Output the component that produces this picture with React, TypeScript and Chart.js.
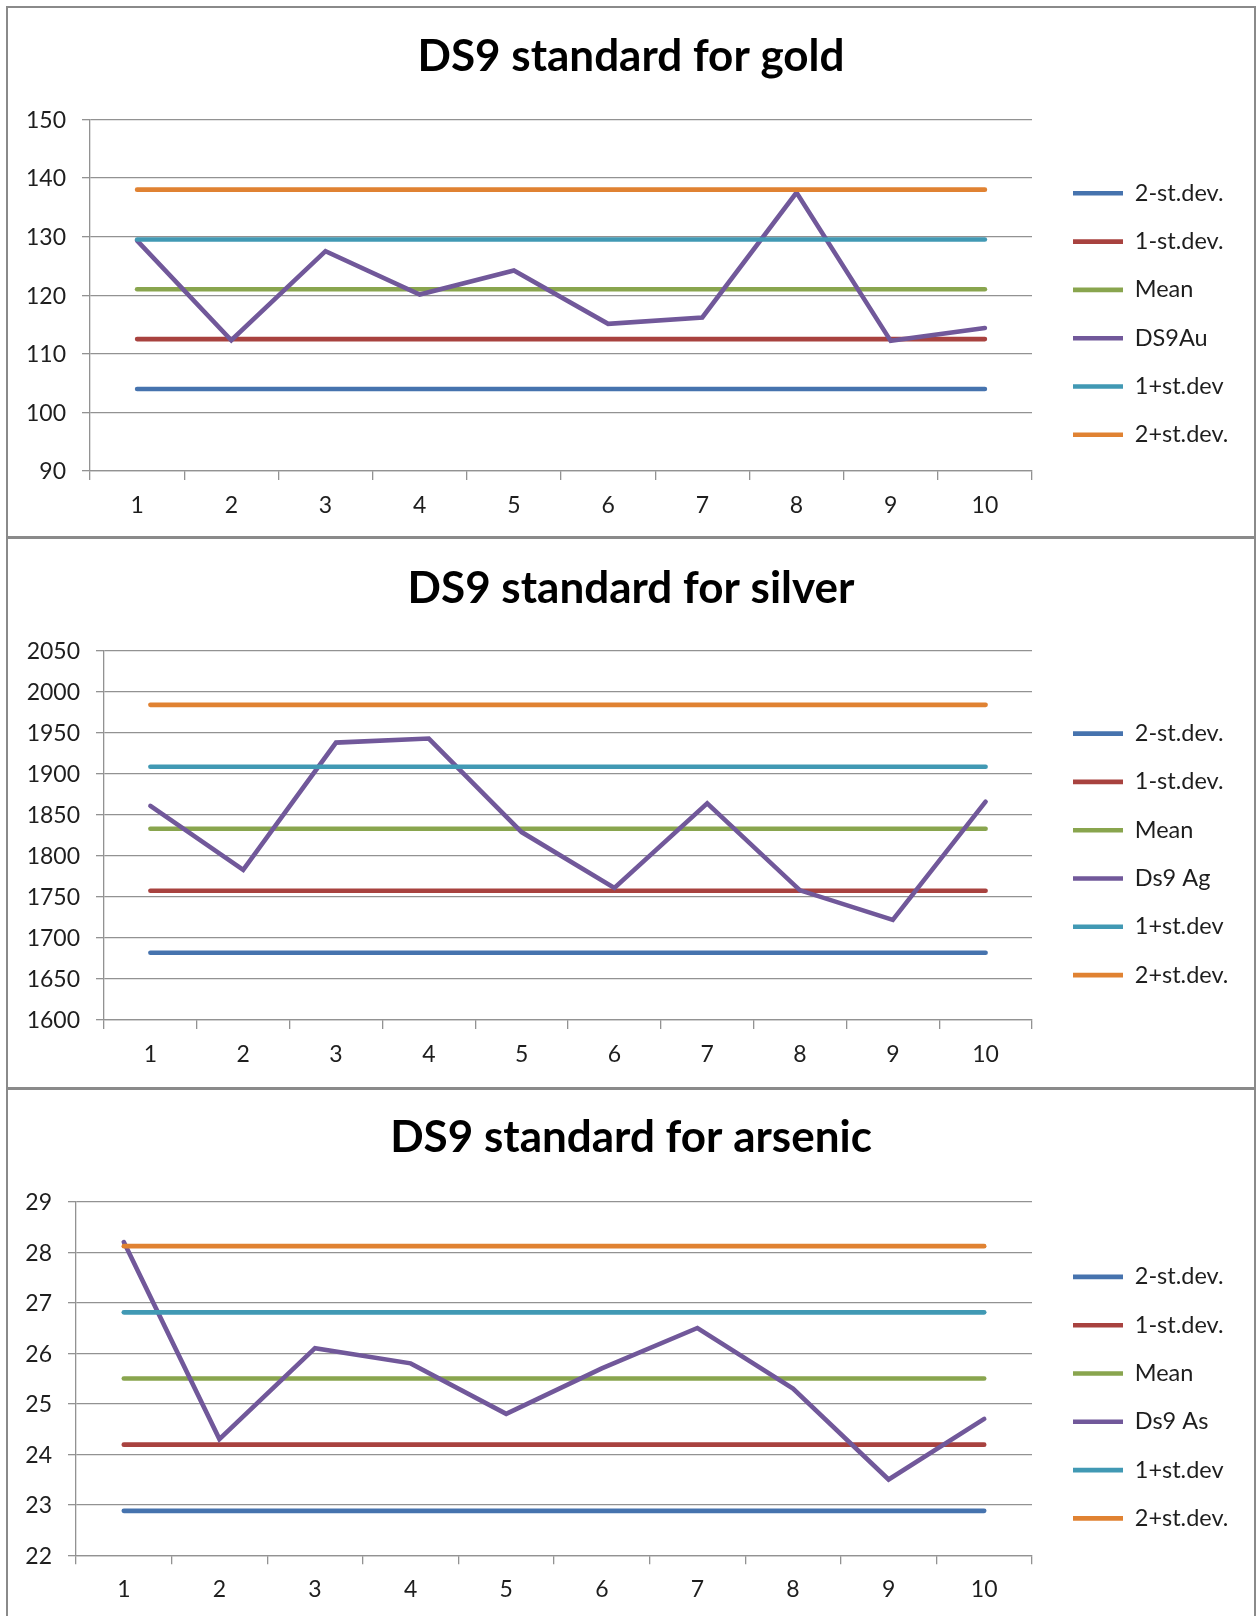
import React, { useEffect, useRef } from 'react';
import { Chart, registerables } from 'chart.js';

Chart.register(...registerables);

// ---------------- data ----------------
const categories = ['1', '2', '3', '4', '5', '6', '7', '8', '9', '10'];

const goldLabels = ['2-st.dev.', '1-st.dev.', 'Mean', 'DS9Au', '1+st.dev', '2+st.dev.'];
const goldMinus2 = [104, 104, 104, 104, 104, 104, 104, 104, 104, 104];
const goldMinus1 = [112.5, 112.5, 112.5, 112.5, 112.5, 112.5, 112.5, 112.5, 112.5, 112.5];
const goldMean = [121, 121, 121, 121, 121, 121, 121, 121, 121, 121];
const goldValues = [129.3, 112.3, 127.5, 120.1, 124.2, 115.1, 116.2, 137.5, 112.2, 114.4];
const goldPlus1 = [129.5, 129.5, 129.5, 129.5, 129.5, 129.5, 129.5, 129.5, 129.5, 129.5];
const goldPlus2 = [138, 138, 138, 138, 138, 138, 138, 138, 138, 138];
const goldTicks = [90, 100, 110, 120, 130, 140, 150];

const silverLabels = ['2-st.dev.', '1-st.dev.', 'Mean', 'Ds9 Ag', '1+st.dev', '2+st.dev.'];
const silverMinus2 = [1682, 1682, 1682, 1682, 1682, 1682, 1682, 1682, 1682, 1682];
const silverMinus1 = [1757.5, 1757.5, 1757.5, 1757.5, 1757.5, 1757.5, 1757.5, 1757.5, 1757.5, 1757.5];
const silverMean = [1833, 1833, 1833, 1833, 1833, 1833, 1833, 1833, 1833, 1833];
const silverValues = [1861, 1783, 1938, 1943, 1829, 1761, 1864, 1758, 1722, 1866];
const silverPlus1 = [1908.5, 1908.5, 1908.5, 1908.5, 1908.5, 1908.5, 1908.5, 1908.5, 1908.5, 1908.5];
const silverPlus2 = [1984, 1984, 1984, 1984, 1984, 1984, 1984, 1984, 1984, 1984];
const silverTicks = [1600, 1650, 1700, 1750, 1800, 1850, 1900, 1950, 2000, 2050];

const arsenicLabels = ['2-st.dev.', '1-st.dev.', 'Mean', 'Ds9 As', '1+st.dev', '2+st.dev.'];
const arsenicMinus2 = [22.88, 22.88, 22.88, 22.88, 22.88, 22.88, 22.88, 22.88, 22.88, 22.88];
const arsenicMinus1 = [24.19, 24.19, 24.19, 24.19, 24.19, 24.19, 24.19, 24.19, 24.19, 24.19];
const arsenicMean = [25.5, 25.5, 25.5, 25.5, 25.5, 25.5, 25.5, 25.5, 25.5, 25.5];
const arsenicValues = [28.2, 24.3, 26.1, 25.8, 24.8, 25.7, 26.5, 25.3, 23.5, 24.7];
const arsenicPlus1 = [26.81, 26.81, 26.81, 26.81, 26.81, 26.81, 26.81, 26.81, 26.81, 26.81];
const arsenicPlus2 = [28.12, 28.12, 28.12, 28.12, 28.12, 28.12, 28.12, 28.12, 28.12, 28.12];
const arsenicTicks = [22, 23, 24, 25, 26, 27, 28, 29];

// ---------------- style ----------------
const SERIES_COLORS = ['#4673AE', '#A8423F', '#89A54E', '#71589A', '#4199B4', '#E08232'];
const FONT = 'Lato';
const TEXT = '#1e1e1e';
const GRID = '#929292';
const LINE_W = 4.6;
const TITLE_SIZE = 44;
const TICK_SIZE = 23;
const LEGEND_SIZE = 23.5;
const LEGEND_PAD = 24.8;
const LEGEND_LINE = 50;
const LEGEND_X = 1065;
const PLOT_RIGHT = 1024;
const W = 1246;

type PanelProps = {
  title: string;
  labels: string[];
  series: number[][];
  ticks: number[];
  H: number;
  plotLeft: number;
  plotTop: number;
  plotBottom: number;
  titleCenter: number;
  legendFirst: number;
};

function ControlChart(p: PanelProps) {
  const ref = useRef<HTMLCanvasElement>(null);
  useEffect(() => {
    const canvas = ref.current;
    if (!canvas) return;
    const H = p.H;
    const titleLH = TITLE_SIZE * 1.2;
    const titleMiddle = p.titleCenter - 0.03 * TITLE_SIZE;
    const tPadTop = titleMiddle - titleLH / 2;
    const tPadBottom = p.plotTop - tPadTop - titleLH;
    const colH = 6 * (LEGEND_SIZE + LEGEND_PAD);
    const legendTitleH = 2 * (p.legendFirst - LEGEND_SIZE / 2) - LEGEND_PAD - H + colH;
    const legendLeft = LEGEND_X - LEGEND_PAD;
    const gapIn = legendLeft - PLOT_RIGHT;

    const datasets = p.series.map((data, i) => ({
      label: p.labels[i],
      data,
      borderColor: SERIES_COLORS[i],
      backgroundColor: SERIES_COLORS[i],
      borderWidth: LINE_W,
      pointRadius: 0,
      pointHoverRadius: 0,
      borderCapStyle: 'round' as const,
      fill: false,
      tension: 0,
      order: -i,
      xAxisID: 'x',
      yAxisID: 'y',
    }));

    const chart = new Chart(canvas, {
      type: 'line',
      data: { labels: categories, datasets },
      options: {
        responsive: false,
        maintainAspectRatio: false,
        animation: false,
        devicePixelRatio: 1,
        events: [],
        layout: { padding: 0 },
        plugins: {
          tooltip: { enabled: false },
          title: {
            display: true,
            text: p.title,
            color: '#000',
            font: { family: FONT, size: TITLE_SIZE, weight: 'bold', lineHeight: 1.2 },
            padding: { top: tPadTop, bottom: tPadBottom },
          },
          legend: {
            display: true,
            position: 'right',
            align: 'center',
            maxWidth: 400,
            title: {
              display: true,
              text: '',
              font: { size: 1, lineHeight: 1 },
              padding: { top: legendTitleH - 1, bottom: 0 },
            },
            labels: {
              usePointStyle: true,
              pointStyle: 'line',
              pointStyleWidth: LEGEND_LINE,
              padding: LEGEND_PAD,
              color: TEXT,
              font: { family: FONT, size: LEGEND_SIZE },
              sort: (a: any, b: any) => a.datasetIndex - b.datasetIndex,
            },
          },
        },
        scales: {
          x: {
            type: 'category',
            offset: true,
            grid: {
              display: true,
              drawOnChartArea: false,
              drawTicks: true,
              tickLength: 9,
              offset: true,
              color: GRID,
              lineWidth: 1.3,
            },
            border: { display: true, color: GRID, width: 1.3 },
            ticks: {
              color: TEXT,
              font: { family: FONT, size: TICK_SIZE, lineHeight: 1.2 },
              padding: 11.5,
              maxRotation: 0,
              autoSkip: false,
            },
            afterFit: (s: any) => {
              s.height = H - p.plotBottom;
            },
          },
          y: {
            type: 'linear',
            position: 'left',
            min: p.ticks[0],
            max: p.ticks[p.ticks.length - 1],
            ticks: {
              stepSize: p.ticks[1] - p.ticks[0],
              color: TEXT,
              font: { family: FONT, size: TICK_SIZE, lineHeight: 1.2 },
              padding: 16,
              labelOffset: 1,
              callback: (v: any) => String(v),
            },
            grid: { color: GRID, lineWidth: 1.3, tickLength: 8, drawTicks: true },
            border: { display: true, color: GRID, width: 1.3 },
            afterFit: (s: any) => {
              s.width = p.plotLeft;
            },
          },
          gapIn: {
            type: 'linear',
            position: 'right',
            display: true,
            grid: { display: false },
            border: { display: false },
            ticks: { display: false },
            afterFit: (s: any) => {
              s.width = gapIn;
            },
          },
          gapOut: {
            type: 'linear',
            position: 'right',
            display: true,
            weight: 2000,
            grid: { display: false },
            border: { display: false },
            ticks: { display: false },
            afterFit: (s: any) => {
              const lw = s.chart.legend && s.chart.legend.width ? s.chart.legend.width : 190;
              s.width = Math.max(0, W - legendLeft - lw);
            },
          },
        },
      } as any,
    });
    return () => chart.destroy();
  }, []);
  return (
    <canvas
      ref={ref}
      width={W}
      height={p.H}
      style={{ display: 'block', width: W, height: p.H }}
    />
  );
}

const BORDER = '#8a8a8a';

export default function App() {
  return (
    <div
      style={{
        position: 'absolute',
        left: 6,
        top: 6,
        width: W + 4,
        background: '#fff',
      }}
    >
      <div style={{ borderTop: `2px solid ${BORDER}`, borderLeft: `2px solid ${BORDER}`, borderRight: `2px solid ${BORDER}` }}>
        <ControlChart
          title="DS9 standard for gold"
          labels={goldLabels}
          series={[goldMinus2, goldMinus1, goldMean, goldValues, goldPlus1, goldPlus2]}
          ticks={goldTicks}
          H={528}
          plotLeft={82}
          plotTop={111.3}
          plotBottom={463}
          titleCenter={50.2}
          legendFirst={185.3}
        />
      </div>
      <div style={{ borderTop: `3px solid ${BORDER}`, borderLeft: `2px solid ${BORDER}`, borderRight: `2px solid ${BORDER}` }}>
        <ControlChart
          title="DS9 standard for silver"
          labels={silverLabels}
          series={[silverMinus2, silverMinus1, silverMean, silverValues, silverPlus1, silverPlus2]}
          ticks={silverTicks}
          H={548}
          plotLeft={96}
          plotTop={111.7}
          plotBottom={481}
          titleCenter={50.8}
          legendFirst={194.6}
        />
      </div>
      <div style={{ borderTop: `3px solid ${BORDER}`, borderLeft: `2px solid ${BORDER}`, borderRight: `2px solid ${BORDER}` }}>
        <ControlChart
          title="DS9 standard for arsenic"
          labels={arsenicLabels}
          series={[arsenicMinus2, arsenicMinus1, arsenicMean, arsenicValues, arsenicPlus1, arsenicPlus2]}
          ticks={arsenicTicks}
          H={526}
          plotLeft={68}
          plotTop={111.7}
          plotBottom={465.3}
          titleCenter={49.4}
          legendFirst={186.9}
        />
      </div>
    </div>
  );
}
